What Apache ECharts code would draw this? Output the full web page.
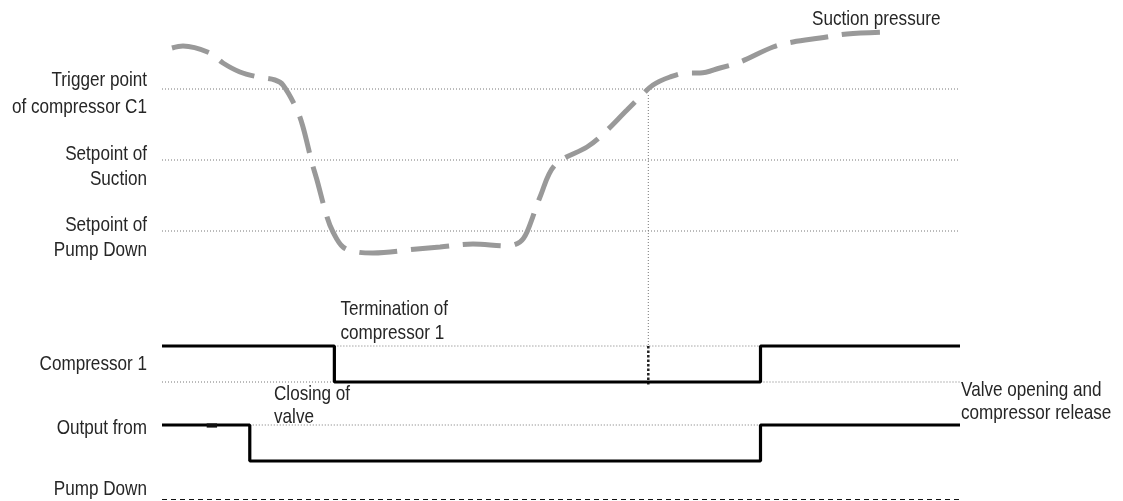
<!DOCTYPE html>
<html><head><meta charset="utf-8">
<script src="https://cdn.jsdelivr.net/npm/echarts@6/dist/echarts.min.js"></script>
<style>html,body{margin:0;padding:0;background:#fff}#c{width:1123px;height:501px}</style>
</head><body><div id="c"></div>
<script>
// Schematic units: time 0..100, level 0..100
const thresholdNames = ['Trigger point of compressor C1', 'Setpoint of Suction', 'Setpoint of Pump Down'];
const thresholdLevels = [82.2, 68, 53.8];

const suctionTime = [1.25, 2.63, 6.02, 7.64, 9.77, 12.03, 14.16, 15.16, 16.92, 17.67, 18.8, 19.42, 20.68, 21.43, 22.68, 24.44, 26.44, 31.95, 34.84, 38.97, 43.23, 44.86, 45.74, 47.37, 49.25, 53.26, 54.89, 58.27, 59.9, 61.53, 63.66, 65.79, 67.42, 69.92, 72.43, 76.57, 79.07, 82.46, 85.84, 90.6];
const suctionPressure = [90.4, 90.8, 89.4, 87.4, 85.6, 84.6, 84.0, 83.0, 78.0, 74.6, 67.4, 64.0, 56.6, 53.6, 50.6, 49.6, 49.4, 50.2, 50.6, 51.2, 50.8, 51.6, 53.6, 60.6, 67.0, 70.6, 72.6, 78.0, 80.6, 83.0, 84.6, 85.4, 85.4, 86.4, 87.6, 90.6, 91.6, 92.4, 93.2, 93.6];

const comp1Times = [0, 21.6, 75, 100];
const comp1States = [1, 0, 1, 1];
const comp1OnLevel = 30.8, comp1OffLevel = 23.6;

const outputTimes = [0, 11.0, 75, 100];
const outputStates = [1, 0, 1, 1];
const outputOnLevel = 15, outputOffLevel = 7.8;

const pumpDownBaseLevel = 0.1;
const timeEnd = 100;
const timeBaseEnd = 100.6;
const terminationTime = 60.94;
const terminationTop = 81;
const outputMarkTime = [5.6, 6.9];

const FONT = "'Liberation Sans', Arial, sans-serif";
const TXT = '#262626';

const chart = echarts.init(document.getElementById('c'), null, {renderer: 'canvas'});

const dotted = {color: '#777', width: 1, type: [1, 2]};
function lineSeries(data, style, extra) {
  return Object.assign({type: 'line', data: data, symbol: 'none', silent: true, clip: false, lineStyle: style, z: 2}, extra || {});
}
function stepData(times, states, onL, offL) {
  return times.map((t, i) => [t, states[i] ? onL : offL]);
}

const series = [];
thresholdLevels.forEach(v => series.push(lineSeries([[0, v], [timeEnd, v]], dotted)));
// reference dotted lines for the other signal state
series.push(lineSeries([[0, comp1OffLevel], [comp1Times[1], comp1OffLevel]], dotted));
series.push(lineSeries([[comp1Times[2], comp1OffLevel], [timeEnd, comp1OffLevel]], dotted));
series.push(lineSeries([[comp1Times[1], comp1OnLevel], [comp1Times[2], comp1OnLevel]], dotted));
series.push(lineSeries([[outputTimes[1], outputOnLevel], [outputTimes[2], outputOnLevel]], dotted));
// termination marker
series.push(lineSeries([[terminationTime, terminationTop], [terminationTime, comp1OnLevel]], {color: '#777', width: 1, type: [1, 2]}));
series.push(lineSeries([[terminationTime, comp1OnLevel], [terminationTime, comp1OffLevel - 0.6]], {color: '#222', width: 2.5, type: [2.5, 2]}));
// suction pressure curve
series.push(lineSeries(suctionTime.map((t, i) => [t, suctionPressure[i]]), {color: '#999', width: 5, type: [38, 14], cap: 'butt'}, {smooth: 0.35, z: 3}));
// step signals
series.push(lineSeries(stepData(comp1Times, comp1States, comp1OnLevel, comp1OffLevel), {color: '#000', width: 3.2}, {step: 'end', z: 4}));
series.push(lineSeries(stepData(outputTimes, outputStates, outputOnLevel, outputOffLevel), {color: '#000', width: 3.2}, {step: 'end', z: 4}));
series.push(lineSeries(outputMarkTime.map(t => [t, outputOnLevel - 0.1]), {color: '#111', width: 4.2}, {z: 5}));
// pump down base
series.push(lineSeries([[0, pumpDownBaseLevel], [timeBaseEnd, pumpDownBaseLevel]], {color: '#111', width: 1, type: [5, 4]}));

const S = 0.815;
function txt(text, x, y, align) {
  return {type: 'text', x: x, y: y, scaleX: S, silent: true, z: 10,
    style: {text: text, x: 0, y: 0, align: align || 'right', verticalAlign: 'middle', fontSize: 21, fontFamily: FONT, fill: TXT}};
}
const graphics = [
  txt('Trigger point', 147, 80),
  txt('of compressor C1', 147, 107.5),
  txt('Setpoint of', 147, 154),
  txt('Suction', 147, 179.5),
  txt('Setpoint of', 147, 225),
  txt('Pump Down', 147, 250.5),
  txt('Compressor 1', 147, 364),
  txt('Output from', 147, 428.5),
  txt('Pump Down', 147, 489.5),
  txt('Termination of', 340.5, 309, 'left'),
  txt('compressor 1', 340.5, 333, 'left'),
  txt('Closing of', 274, 394, 'left'),
  txt('valve', 274, 417, 'left'),
  txt('Valve opening and', 961, 390.5, 'left'),
  txt('compressor release', 961, 413, 'left'),
  txt('Suction pressure', 812, 19.5, 'left')
];

chart.setOption({
  animation: false,
  backgroundColor: '#fff',
  grid: {left: 162, right: 163, top: 0, bottom: 1, containLabel: false},
  xAxis: {type: 'value', min: 0, max: timeEnd, show: false},
  yAxis: {type: 'value', min: 0, max: 100, show: false},
  series: series,
  graphic: graphics
});
</script></body></html>
